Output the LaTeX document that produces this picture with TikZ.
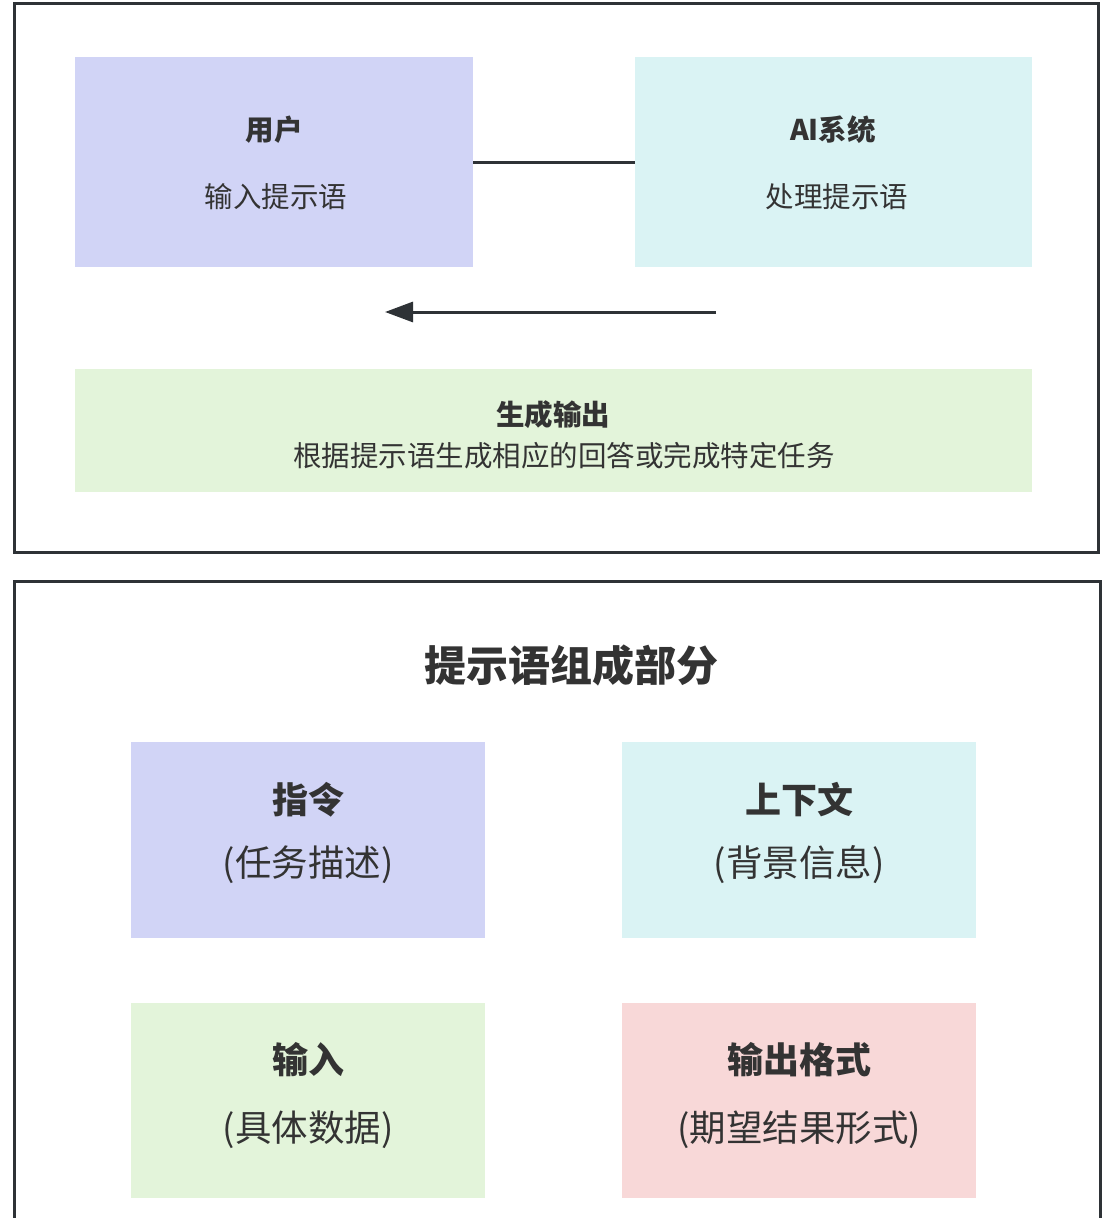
\documentclass[tikz,border=0pt]{standalone}
\usepackage{fontspec}
\setmainfont{Noto Sans CJK SC}
\usetikzlibrary{arrows.meta}
\definecolor{ink}{HTML}{333333}
\definecolor{frame}{HTML}{2E3236}
\definecolor{cblue}{HTML}{D1D4F6}
\definecolor{ccyan}{HTML}{DAF3F4}
\definecolor{cgreen}{HTML}{E3F4DA}
\definecolor{cpink}{HTML}{F8D8D8}
\tikzset{
  box/.style={draw=none, inner sep=0pt, rectangle},
  ttl/.style={text=ink, font=\fontsize{28.5}{32}\selectfont\bfseries, inner sep=0pt},
  sub/.style={text=ink, font=\fontsize{28.5}{32}\selectfont, inner sep=0pt},
  bttl/.style={text=ink, font=\fontsize{36}{40}\selectfont\bfseries, inner sep=0pt},
  bsub/.style={text=ink, font=\fontsize{36.5}{40}\selectfont, inner sep=0pt},
  frm/.style={draw=frame, line width=3pt},
  conn/.style={draw=frame, line width=3pt},
}
\begin{document}
\begin{tikzpicture}[x=1pt,y=-1pt]
\useasboundingbox (0,0) rectangle (1113,1218);
\fill[white] (0,0) rectangle (1113,1218);
% frames
\draw[frm] (14,3) rectangle (1098,552);
\draw[frm] (14,1240) -- (14,581) -- (1100,581) -- (1100,1240);
% top boxes
\node[box, fill=cblue, minimum width=398pt, minimum height=210pt] (u) at (274,162) {};
\node[box, fill=ccyan, minimum width=397pt, minimum height=210pt] (ai) at (833.5,162) {};
\node[box, fill=cgreen, minimum width=957pt, minimum height=123pt] (g) at (553.5,430.5) {};
\node[ttl] (ut) at (274,130) {用户};
\node[sub] (us) at (276,197) {输入提示语};
\node[ttl] (at) at (833,130) {AI系统};
\node[sub] (as) at (837,197) {处理提示语};
\node[ttl] (gt) at (553,415) {生成输出};
\node[sub] (gs) at (564,456) {根据提示语生成相应的回答或完成特定任务};
% connectors
\draw[conn] (u.east) -- (ai.west);
\coordinate (a1) at (716,312);
\coordinate (a2) at (385,312);
\draw[conn, -{Triangle[length=28pt,width=20pt]}] (a1) -- (a2);
% bottom
\node[text=ink, font=\fontsize{42}{46}\selectfont\bfseries, inner sep=0pt] (bt) at (571,665) {提示语组成部分};
\node[box, fill=cblue, minimum width=354pt, minimum height=196pt] (b1) at (308,840) {};
\node[box, fill=ccyan, minimum width=354pt, minimum height=196pt] (b2) at (799,840) {};
\node[box, fill=cgreen, minimum width=354pt, minimum height=195pt] (b3) at (308,1100.5) {};
\node[box, fill=cpink, minimum width=354pt, minimum height=195pt] (b4) at (799,1100.5) {};
\node[bttl] (b1t) at (308,800) {指令};
\node[bsub] (b1s) at (308,865) {(任务描述)};
\node[bttl] (b2t) at (799,800) {上下文};
\node[bsub] (b2s) at (799,865) {(背景信息)};
\node[bttl] (b3t) at (308,1060) {输入};
\node[bsub] (b3s) at (308,1130) {(具体数据)};
\node[bttl] (b4t) at (799,1060) {输出格式};
\node[bsub] (b4s) at (799,1130) {(期望结果形式)};
\end{tikzpicture}
\end{document}
